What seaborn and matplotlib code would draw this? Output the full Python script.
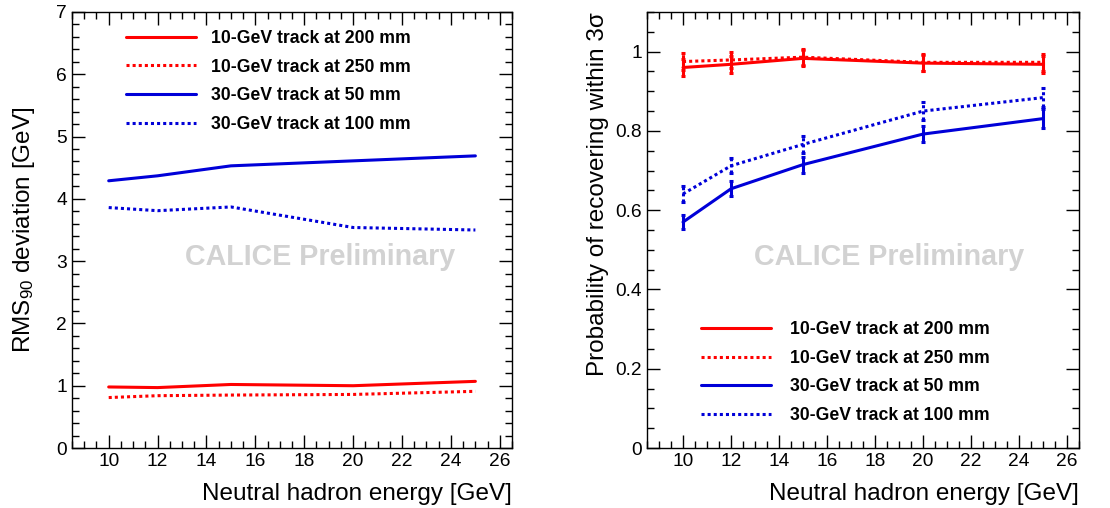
import numpy as np
import pandas as pd
import matplotlib
matplotlib.use("Agg")
import matplotlib.pyplot as plt
from matplotlib.ticker import MultipleLocator, FormatStrFormatter
import seaborn as sns

# Neutral hadron energies (GeV)
energy = [10, 12, 15, 20, 25]

# RMS90 deviation [GeV]
rms_10gev_200mm = [0.98, 0.97, 1.02, 1.00, 1.07]
rms_10gev_250mm = [0.81, 0.84, 0.85, 0.86, 0.91]
rms_30gev_50mm = [4.29, 4.37, 4.53, 4.61, 4.69]
rms_30gev_100mm = [3.86, 3.81, 3.87, 3.54, 3.50]

# Probability of recovering within 3 sigma, with uncertainties
prob_10gev_200mm = [0.960, 0.968, 0.983, 0.971, 0.968]
prob_10gev_250mm = [0.975, 0.979, 0.986, 0.973, 0.973]
prob_30gev_50mm = [0.570, 0.654, 0.715, 0.792, 0.831]
prob_30gev_100mm = [0.641, 0.712, 0.766, 0.850, 0.884]
err_10gev_200mm = [0.022, 0.021, 0.020, 0.021, 0.022]
err_10gev_250mm = [0.022, 0.021, 0.020, 0.021, 0.021]
err_30gev_50mm = [0.017, 0.019, 0.020, 0.021, 0.023]
err_30gev_100mm = [0.020, 0.019, 0.022, 0.022, 0.024]

labels = ["10-GeV track at 200 mm", "10-GeV track at 250 mm",
          "30-GeV track at 50 mm", "30-GeV track at 100 mm"]

sns.set_theme(style="white")
plt.rcParams["font.family"] = ["Liberation Sans", "DejaVu Sans"]
plt.rcParams["mathtext.fontset"] = "custom"
plt.rcParams["mathtext.rm"] = "Liberation Sans"
plt.rcParams["mathtext.it"] = "Liberation Sans:italic"
plt.rcParams["mathtext.bf"] = "Liberation Sans:bold"
for key in ("text.color", "axes.labelcolor", "xtick.color", "ytick.color",
            "axes.edgecolor"):
    plt.rcParams[key] = "black"

RED = "#ff0000"
BLUE = "#0000d8"
colors = [RED, RED, BLUE, BLUE]
styles = ["-", (0, (1, 1)), "-", (0, (1, 1))]
LW = 2.2

fig = plt.figure(figsize=(11.1, 5.08), dpi=100)
ax1 = fig.add_axes([0.0649, 0.1181, 0.3964, 0.8583])
ax2 = fig.add_axes([0.5829, 0.1181, 0.3892, 0.8583])

# Left panel: RMS90 deviation
rms_series = [rms_10gev_200mm, rms_10gev_250mm, rms_30gev_50mm, rms_30gev_100mm]
for vals, c, ls, lab in zip(rms_series, colors, styles, labels):
    df = pd.DataFrame({"E": energy, "v": vals})
    sns.lineplot(data=df, x="E", y="v", ax=ax1, color=c, linestyle=ls,
                 linewidth=LW, label=lab)

# Right panel: recovery probability with error bars
prob_series = [prob_10gev_200mm, prob_10gev_250mm, prob_30gev_50mm, prob_30gev_100mm]
err_series = [err_10gev_200mm, err_10gev_250mm, err_30gev_50mm, err_30gev_100mm]
for vals, errs, c, ls, lab in zip(prob_series, err_series, colors, styles, labels):
    df = pd.DataFrame({"E": energy, "v": vals})
    sns.lineplot(data=df, x="E", y="v", ax=ax2, color=c, linestyle=ls,
                 linewidth=LW, label=lab)
    eb = ax2.errorbar(energy, vals, yerr=errs, fmt="none", ecolor=c,
                      elinewidth=LW, capsize=1.6, capthick=LW)
    for seg in eb[2]:
        seg.set_linestyle(ls)

for ax in (ax1, ax2):
    ax.set_xlim(8.5, 26.5)
    ax.xaxis.set_major_locator(MultipleLocator(2))
    ax.xaxis.set_minor_locator(MultipleLocator(0.5))
    ax.tick_params(which="both", direction="in", top=True, right=True,
                   bottom=True, left=True, colors="black", labelcolor="black",
                   labelsize=13.8)
    ax.tick_params(which="major", length=9.4, width=1.0)
    ax.tick_params(which="minor", length=4.7, width=1.0)
    for sp in ax.spines.values():
        sp.set_color("black")
        sp.set_linewidth(1.0)
    ax.set_xlabel("Neutral hadron energy [GeV]", fontsize=17.5, loc="right",
                  color="black")
    ax.xaxis.set_label_coords(1.0, -0.08)

ax1.set_ylim(0, 7)
ax1.yaxis.set_major_locator(MultipleLocator(1))
ax1.yaxis.set_minor_locator(MultipleLocator(0.2))
ax1.yaxis.set_major_formatter(FormatStrFormatter("%g"))
ax1.set_ylabel("RMS$_{90}$ deviation [GeV]", fontsize=17.5, color="black")
ax1.yaxis.set_label_coords(-0.08, 0.5)

ax2.set_ylim(0, 1.1)
ax2.yaxis.set_major_locator(MultipleLocator(0.2))
ax2.yaxis.set_minor_locator(MultipleLocator(0.05))
ax2.yaxis.set_major_formatter(FormatStrFormatter("%g"))
ax2.set_ylabel("Probability of recovering within 3σ", fontsize=17.5,
               loc="top", color="black")
ax2.yaxis.set_label_coords(-0.088, 1.0)

# Watermarks
for ax, xc in ((ax1, 0.563), (ax2, 0.560)):
    ax.text(xc, 0.438, "CALICE Preliminary", transform=ax.transAxes,
            ha="center", va="center", fontsize=20.6, fontweight="bold",
            color="#d2d2d2", zorder=0)

leg_kw = dict(frameon=False, prop={"weight": "bold", "size": 12.7},
              handlelength=3.97, borderpad=0, borderaxespad=0,
              labelspacing=0.66, labelcolor="black")
ax1.legend(loc="upper left", bbox_to_anchor=(0.1227, 0.959),
           handletextpad=0.85, **leg_kw)
ax2.legend(loc="upper left", bbox_to_anchor=(0.125, 0.291),
           handletextpad=1.08, **leg_kw)

fig.savefig("out.png", dpi=100, facecolor="white")
